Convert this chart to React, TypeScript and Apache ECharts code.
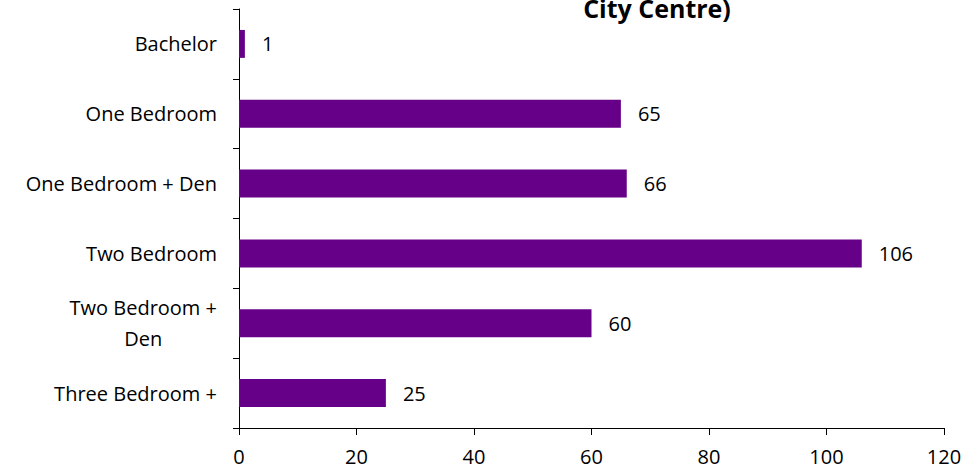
import React, { useEffect, useRef } from "react";
import * as echarts from "echarts";

const categories = [
  "Bachelor",
  "One Bedroom",
  "One Bedroom + Den",
  "Two Bedroom",
  "Two Bedroom + Den",
  "Three Bedroom +",
];
const values = [1, 65, 66, 106, 60, 25];
const xTicks = [0, 20, 40, 60, 80, 100, 120];
const titleText = "City Centre)";

const FONT = "'Open Sans', sans-serif";
const FS = 20;

export default function App() {
  const ref = useRef<HTMLDivElement>(null);
  useEffect(() => {
    if (!ref.current) return;
    const chart = echarts.init(ref.current, null, { renderer: "svg" });
    chart.setOption({
      animation: false,
      backgroundColor: "#ffffff",
      textStyle: { fontFamily: FONT, color: "#000" },
      graphic: [
        {
          type: "text",
          x: 657,
          y: 8,
          style: {
            text: titleText,
            align: "center",
            verticalAlign: "middle",
            fontFamily: FONT,
            fontWeight: "bold",
            fontSize: 25,
            fill: "#000",
          },
        },
      ],
      grid: { left: 239, right: 31, top: 9, bottom: 44, containLabel: false },
      xAxis: {
        type: "value",
        min: xTicks[0],
        max: xTicks[xTicks.length - 1],
        interval: 20,
        splitLine: { show: false },
        axisLine: { show: true, lineStyle: { color: "#000", width: 1 } },
        axisTick: { show: true, length: 7, lineStyle: { color: "#000" } },
        axisLabel: { color: "#000", fontSize: FS, fontFamily: FONT, margin: 18 },
      },
      yAxis: {
        type: "category",
        inverse: true,
        data: categories,
        axisLine: { show: true, lineStyle: { color: "#000", width: 1 } },
        axisTick: { show: true, length: 6, lineStyle: { color: "#000" } },
        axisLabel: {
          color: "#000",
          fontSize: FS,
          fontFamily: FONT,
          margin: 22,
          formatter: (v: string) =>
            v === "Two Bedroom + Den" ? "{c|Two Bedroom +}\n{c|Den}" : v,
          rich: {
            c: { align: "center", fontSize: FS, fontFamily: FONT, color: "#000", lineHeight: 31 },
          },
        },
      },
      series: [
        {
          type: "bar",
          data: values,
          barWidth: "40%",
          itemStyle: { color: "#660088" },
          label: {
            show: true,
            position: "right",
            distance: 17,
            color: "#000",
            fontSize: FS,
            fontFamily: FONT,
          },
        },
      ],
    });
    return () => chart.dispose();
  }, []);
  return (
    <div
      ref={ref}
      style={{ position: "absolute", left: 0, top: 0, width: 975, height: 472 }}
    />
  );
}
